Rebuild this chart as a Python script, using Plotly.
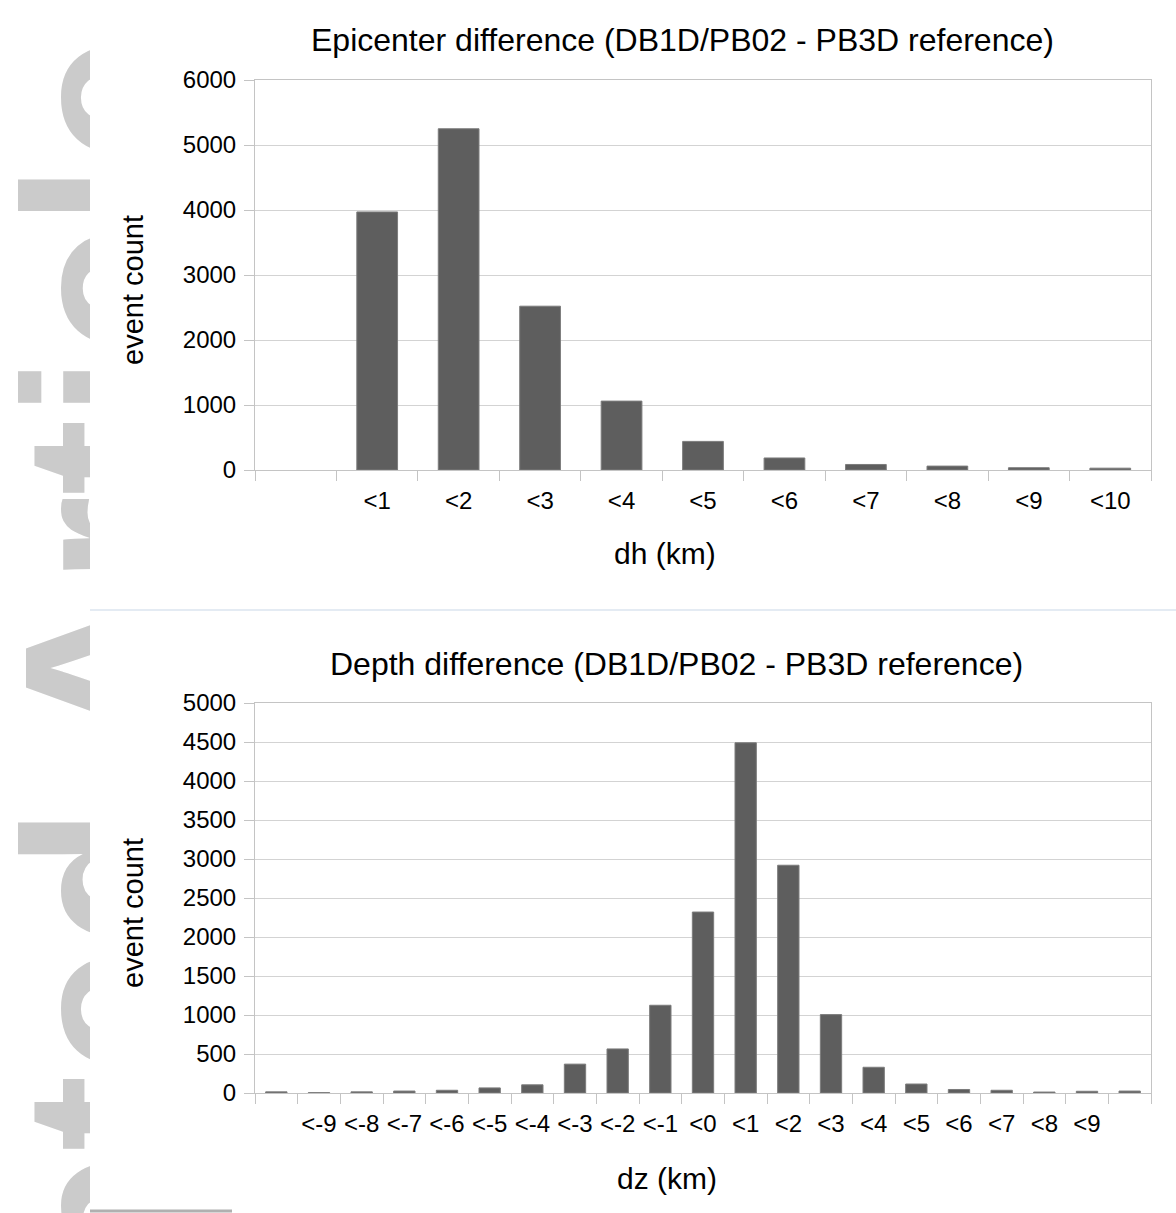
import plotly.graph_objects as go

W, H = 1176, 1213

# ---------------- data ----------------
dh_labels = [" ", "<1", "<2", "<3", "<4", "<5", "<6", "<7", "<8", "<9", "<10"]
dh_counts = [None, 3970, 5250, 2520, 1060, 440, 185, 85, 60, 35, 28]

dz_labels = [" ", "<-9", "<-8", "<-7", "<-6", "<-5", "<-4", "<-3", "<-2", "<-1",
             "<0", "<1", "<2", "<3", "<4", "<5", "<6", "<7", "<8", "<9", "  "]
dz_counts = [15, 5, 15, 25, 35, 65, 105, 370, 565, 1125,
             2320, 4490, 2920, 1005, 330, 115, 45, 35, 12, 22, 25]

top_title = "Epicenter difference (DB1D/PB02 - PB3D reference)"
bottom_title = "Depth difference (DB1D/PB02 - PB3D reference)"
top_xtitle = "dh (km)"
bottom_xtitle = "dz (km)"
ytitle = "event count"
watermark = "Accepted Article"

# ---------------- styles ----------------
FONT = "Liberation Sans, Arial, Helvetica, sans-serif"
BAR = "#5e5e5e"
BAR_EDGE = "#7c7c7c"
LINE = "#c4c4c4"
GRID = "#d3d3d3"


def px_x(x):
    return x / W


def px_y(y):
    return 1 - y / H


fig = go.Figure()

# watermark (clipped to the left strip of the page)
fig.add_trace(go.Bar(
    x=[105], y=[31 - 1846], base=[1846], width=[210],
    xaxis="x3", yaxis="y3",
    text=[watermark], textposition="inside", textangle=-90,
    constraintext="none", insidetextanchor="middle",
    textfont=dict(family=FONT, size=230, color="#cbcbcb", weight="bold"),
    marker=dict(color="rgba(0,0,0,0)", line=dict(width=0)),
    hoverinfo="skip", cliponaxis=True, showlegend=False,
))

fig.add_trace(go.Bar(
    x=dh_labels, y=dh_counts, xaxis="x", yaxis="y",
    marker=dict(color=BAR, line=dict(color=BAR_EDGE, width=1)),
    showlegend=False,
))
fig.add_trace(go.Bar(
    x=dz_labels, y=dz_counts, xaxis="x2", yaxis="y2",
    marker=dict(color=BAR, line=dict(color=BAR_EDGE, width=1)),
    showlegend=False,
))

xcommon = dict(
    type="category", tickson="boundaries", ticks="outside", ticklen=10,
    tickcolor=LINE, tickwidth=1, showline=True, linecolor=LINE, linewidth=1,
    mirror=True, showgrid=False, zeroline=False, tickangle=0,
    tickfont=dict(family=FONT, size=24, color="black"),
    ticklabelstandoff=9, automargin=False,
)
ycommon = dict(
    ticks="outside", ticklen=10, tickcolor=LINE, tickwidth=1,
    showline=True, linecolor=LINE, linewidth=1, mirror=True,
    showgrid=True, gridcolor=GRID, gridwidth=1, zeroline=False,
    tickfont=dict(family=FONT, size=24, color="black"),
    ticklabelstandoff=3, automargin=False,
)

xdom = [px_x(255), px_x(1151)]
fig.update_layout(
    width=W, height=H, autosize=False,
    margin=dict(l=0, r=0, t=0, b=0, pad=0, autoexpand=False),
    paper_bgcolor="white", plot_bgcolor="white",
    bargap=0.5, showlegend=False,
    xaxis=dict(domain=xdom, anchor="y", categoryorder="array",
               categoryarray=dh_labels, **xcommon),
    yaxis=dict(domain=[px_y(470), px_y(80)], anchor="x",
               range=[0, 6000], dtick=1000, tick0=0, **ycommon),
    xaxis2=dict(domain=xdom, anchor="y2", categoryorder="array",
                categoryarray=dz_labels, **xcommon),
    yaxis2=dict(domain=[px_y(1093), px_y(703)], anchor="x2",
                range=[0, 5000], dtick=500, tick0=0, **ycommon),
    xaxis3=dict(domain=[0, px_x(90)], anchor="y3", range=[0, 90],
                visible=False, fixedrange=True, automargin=False),
    yaxis3=dict(domain=[0, 1], anchor="x3", range=[H, 0],
                visible=False, fixedrange=True, automargin=False),
)

ann_font = dict(family=FONT, color="black")
annotations = [
    dict(text=top_title, x=px_x(683), y=px_y(40), font=dict(size=32, **ann_font)),
    dict(text=bottom_title, x=px_x(676), y=px_y(664), font=dict(size=32, **ann_font)),
    dict(text=top_xtitle, x=px_x(665), y=px_y(553), font=dict(size=30, **ann_font)),
    dict(text=bottom_xtitle, x=px_x(667), y=px_y(1178), font=dict(size=30, **ann_font)),
    dict(text=ytitle, x=px_x(133), y=px_y(290), textangle=-90, font=dict(size=29, **ann_font)),
    dict(text=ytitle, x=px_x(133), y=px_y(913), textangle=-90, font=dict(size=29, **ann_font)),
]
for a in annotations:
    a.update(xref="paper", yref="paper", showarrow=False,
             xanchor="center", yanchor="middle")
fig.update_layout(annotations=annotations)

fig.update_layout(shapes=[
    dict(type="line", xref="paper", yref="paper",
         x0=px_x(90), x1=1, y0=px_y(610), y1=px_y(610),
         line=dict(color="#e4ebf3", width=2)),
    dict(type="line", xref="paper", yref="paper",
         x0=px_x(90), x1=px_x(232), y0=px_y(1211), y1=px_y(1211),
         line=dict(color="#b0b0b0", width=3)),
])

fig.write_html(
    "out.html",
    config={"displayModeBar": False},
    post_script="document.body.style.margin='0';document.body.style.overflow='hidden';",
)
